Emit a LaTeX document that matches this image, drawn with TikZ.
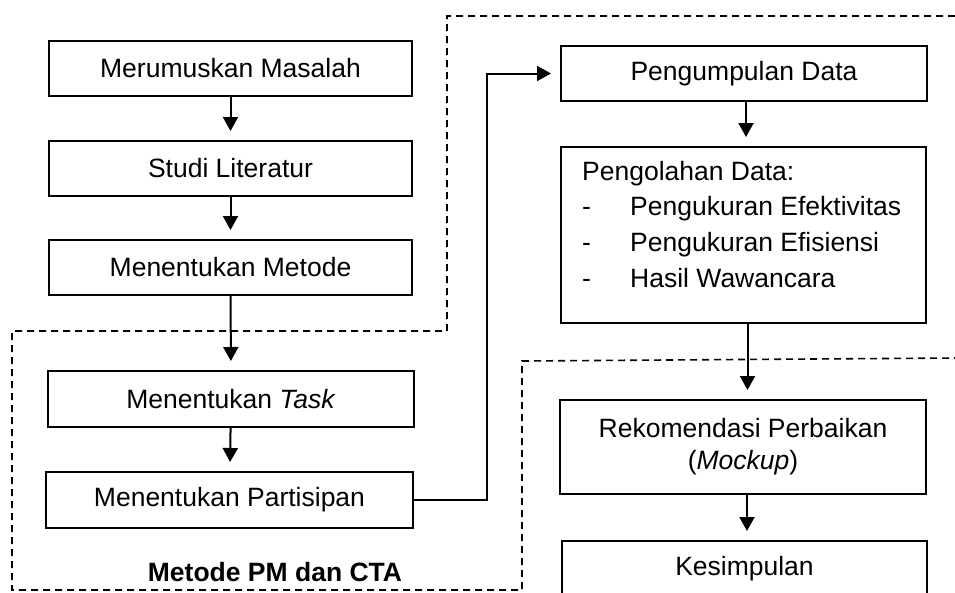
\documentclass[tikz,border=0pt]{standalone}
\usepackage{fontspec}
\setmainfont{Liberation Sans}
\usetikzlibrary{arrows.meta}
\begin{document}
\begin{tikzpicture}[x=1pt,y=-1pt,
  box/.style={draw=black, line width=2pt, rectangle, inner sep=0pt, align=center,
    font=\fontsize{26.5}{32}\selectfont},
  arr/.style={line width=2pt, -{Triangle[width=15pt,length=14pt]}, shorten >=9pt},
  region/.style={draw=black, line width=1.6pt, dash pattern=on 7pt off 5pt}]
\path[use as bounding box] (0,0) rectangle (955,592);
\clip (0,0) rectangle (955,592);
% left column
\node[box, minimum width=363pt, minimum height=55pt] (m1) at (230.5,68.5) {Merumuskan Masalah};
\node[box, minimum width=363pt, minimum height=55pt] (m2) at (230.5,168.5) {Studi Literatur};
\node[box, minimum width=363pt, minimum height=55pt] (m3) at (230.5,267.5) {Menentukan Metode};
\node[box, minimum width=366pt, minimum height=56pt] (m4) at (231,399) {Menentukan \textit{Task}};
\node[box, minimum width=367pt, minimum height=56pt] (m5) at (229.5,500) {Menentukan Partisipan};
% right column
\node[box, minimum width=366pt, minimum height=55pt] (r1) at (744,73.5) {Pengumpulan Data};
\node[box, minimum width=365pt, minimum height=176pt] (r2) at (743.5,235) {};
\node[anchor=west, inner sep=0pt, font=\fontsize{26.5}{35.7}\selectfont] (r2t) at (582,226.5)
  {\begin{tabular}{@{}p{48pt}@{}l@{}}
   \multicolumn{2}{@{}l@{}}{Pengolahan Data:}\\
   - & Pengukuran Efektivitas\\
   - & Pengukuran Efisiensi\\
   - & Hasil Wawancara
   \end{tabular}};
\node[box, minimum width=366pt, minimum height=94pt] (r3) at (743,447) {Rekomendasi Perbaikan\\(\textit{Mockup})};
\node[box, minimum width=365pt, minimum height=56pt] (r4) at (744.5,569) {Kesimpulan};
% label
\node[font=\fontsize{26.5}{32}\selectfont\bfseries, inner sep=0pt] (lbl) at (275,572) {Metode PM dan CTA};
% connectors
\draw[arr] (m1) -- (m2);
\draw[arr] (m2) -- (m3);
\draw[arr] (m3) -- (m4);
\draw[arr] (m4) -- (m5);
\coordinate (bend) at (487,73.5);
\draw[arr] (m5.east) -| (bend) -- (r1.west);
\draw[arr] ([xshift=2pt]r1.south) -- ([xshift=2pt]r1.south |- r2.north);
\draw[arr] ([xshift=4pt]r2.south) -- ([xshift=4pt]r2.south |- r3.north);
\draw[arr] ([xshift=4pt]r3.south) -- ([xshift=4pt]r3.south |- r4.north);
% dashed regions
\coordinate (d1) at (955,16);
\coordinate (d2) at (447,16);
\coordinate (d3) at (447,331);
\coordinate (d4) at (12,331);
\coordinate (d5) at (12,590);
\coordinate (d6) at (522,590);
\coordinate (d7) at (522,361);
\coordinate (d8) at (955,358);
\draw[region] (d1) -- (d2) -- (d3) -- (d4) -- (d5) -- (d6) -- (d7) -- (d8);
\end{tikzpicture}
\end{document}
